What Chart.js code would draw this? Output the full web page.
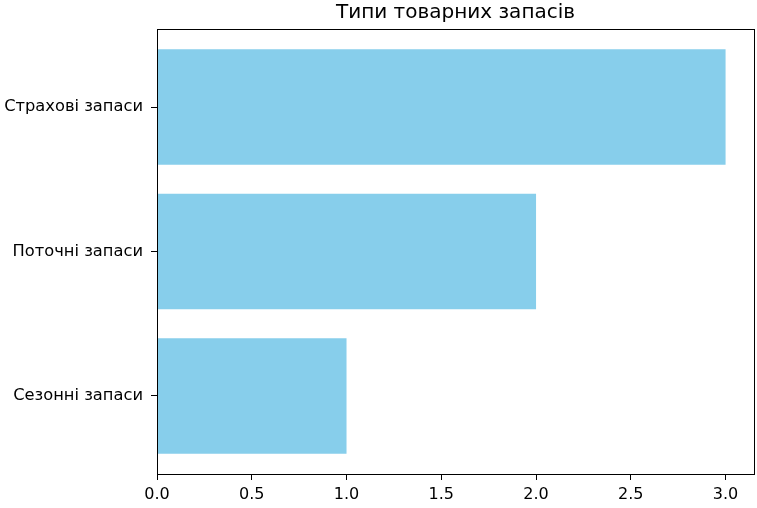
<!DOCTYPE html>
<html>
<head>
<meta charset="utf-8">
<script src="https://cdn.jsdelivr.net/npm/chart.js@4"></script>
<style>
    body { margin: 0; background: #fff; }
    #wrap { width: 757px; height: 508px; }
</style>
</head>
<body>
<div id="wrap"><canvas id="stockChart" width="757" height="508"></canvas></div>
<script>
// chart data (bottom to top, as matplotlib draws barh)
const categories = ['Сезонні запаси', 'Поточні запаси', 'Страхові запаси'];
const values = [1, 2, 3];
const xTicks = [0, 0.5, 1.0, 1.5, 2.0, 2.5, 3.0];
const chartTitle = 'Типи товарних запасів';

const FONT = "'DejaVu Sans', sans-serif";

// full box round the plot area (matplotlib spines) + title centred over the plot
const frameBox = {
    id: 'frameBox',
    afterDatasetsDraw(chart) {
        const { ctx, chartArea: a } = chart;
        ctx.save();
        ctx.strokeStyle = '#000';
        ctx.lineWidth = 1;
        ctx.strokeRect(Math.round(a.left) + 0.5, Math.round(a.top) + 0.5,
            Math.round(a.right - a.left), Math.round(a.bottom - a.top));

        ctx.fillStyle = '#000';
        ctx.font = '20px ' + FONT;
        ctx.textAlign = 'center';
        ctx.textBaseline = 'alphabetic';
        ctx.fillText(chartTitle, (a.left + a.right) / 2, a.top - 11);
        ctx.restore();
    }
};

window.addEventListener('load', function () {
    drawChart();
});

function drawChart() {
    const ctx = document.getElementById('stockChart').getContext('2d');
    new Chart(ctx, {
        type: 'bar',
        data: {
            datasets: [{
                data: values.map((v, i) => ({ x: v, y: i })),
                backgroundColor: '#87CEEB',
                borderWidth: 0,
                barPercentage: 0.8,
                categoryPercentage: 1
            }]
        },
        options: {
            indexAxis: 'y',
            responsive: false,
            animation: false,
            devicePixelRatio: 1,
            layout: { padding: { left: 0, right: 3, top: 29, bottom: 0 } },
            plugins: {
                legend: { display: false },
                tooltip: { enabled: false },
                title: { display: false }
            },
            scales: {
                x: {
                    type: 'linear',
                    min: 0,
                    max: 3.15,
                    afterBuildTicks: axis => { axis.ticks = xTicks.map(v => ({ value: v })); },
                    afterFit: axis => { axis.height = 34; },
                    border: { display: false },
                    grid: { drawOnChartArea: false, tickLength: 6, color: '#000', tickColor: '#000' },
                    ticks: {
                        color: '#000',
                        padding: 5,
                        maxRotation: 0,
                        font: { family: FONT, size: 16 },
                        callback: v => Number(v).toFixed(1)
                    }
                },
                y: {
                    type: 'linear',
                    offset: false,
                    min: -0.54,
                    max: 2.54,
                    afterBuildTicks: axis => { axis.ticks = categories.map((c, i) => ({ value: i })); },
                    afterFit: axis => { axis.width = 157; },
                    border: { display: false },
                    grid: { offset: false, drawOnChartArea: false, tickLength: 6, color: '#000', tickColor: '#000' },
                    ticks: {
                        color: '#000',
                        padding: 8,
                        font: { family: FONT, size: 16.3 },
                        callback: v => categories[v]
                    }
                }
            }
        },
        plugins: [frameBox]
    });
}
</script>
</body>
</html>
